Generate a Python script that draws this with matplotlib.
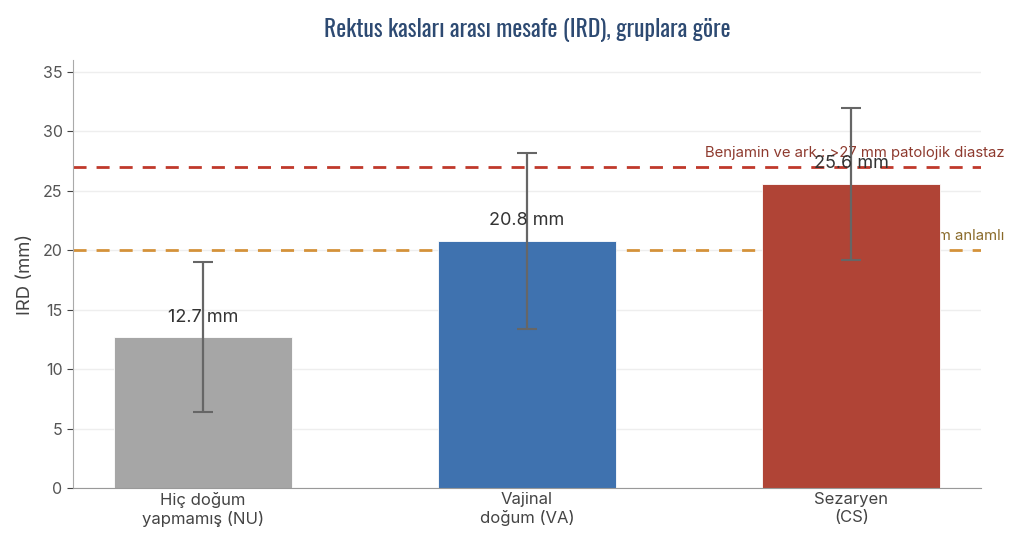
import matplotlib
matplotlib.use('Agg')
import matplotlib.pyplot as plt
import matplotlib.transforms as mtransforms
from matplotlib import font_manager
import numpy as np

plt.rcParams['font.family'] = ['Inter', 'DejaVu Sans']

# veriler
gruplar = ['Hiç doğum\nyapmamış (NU)', 'Vajinal\ndoğum (VA)', 'Sezaryen\n(CS)']
ird_ort = [12.7, 20.8, 25.6]
ird_sd = [6.3, 7.4, 6.4]
renkler = ['#a6a6a6', '#3f72af', '#b04436']
esik_patolojik = 27
esik_anlamli = 20

fig = plt.figure(figsize=(10.24, 5.46), dpi=100)
ax = fig.add_axes([0.0713, 0.1062, 0.8867, 0.7838])

x = np.arange(len(gruplar))

# esik cizgileri (barlarin arkasinda)
ax.axhline(esik_patolojik, color='#c0392b', lw=2, dashes=(4.7, 3.6), zorder=1)
ax.axhline(esik_anlamli, color='#d4923a', lw=2, dashes=(4.7, 3.6), zorder=1)

trans = mtransforms.blended_transform_factory(ax.transAxes, ax.transData)
ax.text(1.026, esik_patolojik + 0.6, 'Benjamin ve ark.: >27 mm patolojik diastaz',
        transform=trans, ha='right', va='bottom', fontsize=10.7, color='#8e3a2e', zorder=1)
ax.text(1.026, esik_anlamli + 0.6, 'Rath ve ark.: >20 mm anlamlı',
        transform=trans, ha='right', va='bottom', fontsize=10.7, color='#8a6a2a', zorder=1)

ax.bar(x, ird_ort, width=0.55, color=renkler, edgecolor='white', linewidth=0.6, zorder=2)
ax.errorbar(x, ird_ort, yerr=ird_sd, fmt='none', ecolor='#666666', elinewidth=1.6,
            capsize=7, capthick=1.5, zorder=3)

for xi, v in zip(x, ird_ort):
    ax.text(xi, v + 0.95, f'{v} mm', ha='center', va='bottom', fontsize=13,
            color='#333333', zorder=4)

ax.set_xlim(-0.4, 2.4)
ax.set_ylim(0, 36)
ax.set_yticks(np.arange(0, 36, 5))
ax.set_xticks(x)
ax.set_xticklabels(gruplar, fontsize=12, color='#444444', linespacing=1.25)
ax.tick_params(axis='x', length=0, pad=3)
ax.tick_params(axis='y', labelsize=11.5, labelcolor='#555555', color='#444444', length=4)

ax.grid(axis='y', color='#eeeeee', lw=1, zorder=0)
ax.set_axisbelow(True)
for s in ['top', 'right']:
    ax.spines[s].set_visible(False)
ax.spines['left'].set_color('#aaaaaa')
ax.spines['bottom'].set_color('#999999')

ax.set_ylabel('IRD (mm)', fontsize=13.3, color='#444444', labelpad=6)

ad = set(f.name for f in font_manager.fontManager.ttflist)
baslik_font = [f for f in ['Oswald', 'Roboto Condensed', 'Liberation Sans Narrow',
                           'DejaVu Sans Condensed'] if f in ad] + ['DejaVu Sans']
fig.text(0.515, 0.945, 'Rektus kasları arası mesafe (IRD), gruplara göre',
         ha='center', va='center', fontsize=17, color='#2d4a72',
         family=baslik_font, stretch='condensed')

fig.savefig('out.png', dpi=100)
